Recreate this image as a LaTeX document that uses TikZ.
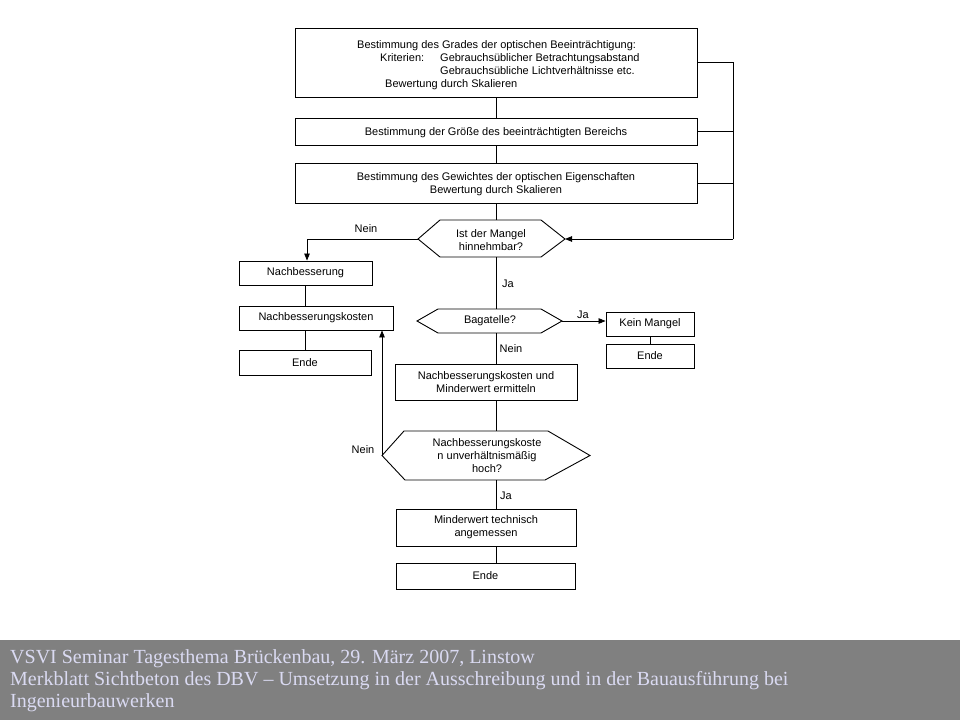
\documentclass[tikz,border=0pt]{standalone}
\usepackage{fontspec}
\setmainfont{Liberation Sans}
\newfontfamily\footfont{Liberation Serif}
\usetikzlibrary{arrows.meta}
\definecolor{footgray}{RGB}{128,128,128}
\definecolor{foottext}{RGB}{218,218,242}
\begin{document}
\begin{tikzpicture}[x=1pt,y=-1pt,
  box/.style={draw, line width=0.9pt, inner sep=0pt, align=center,
    font=\fontsize{11}{13}\selectfont},
  txt/.style={inner sep=0pt, align=center, font=\fontsize{11}{13}\selectfont},
  hexa/.style={draw, line width=0.9pt},
  conn/.style={line width=0.8pt},
  arr/.style={conn, -{Triangle[length=7pt,width=5.5pt]}},
  lbl/.style={inner sep=0pt, font=\fontsize{11}{12}\selectfont},
  foot/.style={inner sep=0pt, anchor=base west, text=foottext,
    font=\footfont\fontsize{20}{22}\selectfont}]
\useasboundingbox (0,0) rectangle (960,720);
\fill[white] (0,0) rectangle (960,720);

% top boxes
\node[box, minimum width=402pt, minimum height=69pt] (b1) at (496,62.5) {};
\node[txt, align=left, anchor=north west] (b1t) at (357,40.5) {%
Bestimmung des Grades der optischen Beeinträchtigung:\\
\hspace*{23pt}\makebox[60pt][l]{Kriterien:}Gebrauchsüblicher Betrachtungsabstand\\
\hspace*{83pt}Gebrauchsübliche Lichtverhältnisse etc.\\
\hspace*{28pt}Bewertung durch Skalieren};
\node[box, minimum width=402pt, minimum height=27pt] (b2) at (496,131.5) {};
\node[txt] (b2t) at (496,133) {Bestimmung der Größe des beeinträchtigten Bereichs};
\node[box, minimum width=402pt, minimum height=40pt] (b3) at (496,183) {};
\node[txt] (b3t) at (496,184.5) {Bestimmung des Gewichtes der optischen Eigenschaften\\Bewertung durch Skalieren};

% hexagon 1
\coordinate (d1n) at (496,220);
\coordinate (d1s) at (496,257);
\coordinate (d1w) at (418,239);
\coordinate (d1e) at (565,239);
\draw[hexa] (d1w) -- (440,220) -- (541,220) -- (d1e) -- (541,257) -- (440,257) -- cycle;
\node[txt] (d1) at (491,240) {Ist der Mangel\\hinnehmbar?};

% feedback on the right
\coordinate (rtop) at (733,62.5);
\coordinate (rbot) at (733,239);
\draw[conn] (b1.east) -- (rtop) -- (rbot);
\draw[conn] (b2.east) -- (b2.east -| rtop);
\draw[conn] (b3.east) -- (b3.east -| rtop);
\draw[arr] (rbot) -- (d1e);

\draw[conn] (b1.south) -- (b1.south |- b2.north);
\draw[conn] (b2.south) -- (b2.south |- b3.north);
\draw[conn] (b3.south) -- (d1n);

% left branch
\node[box, minimum width=133pt, minimum height=24pt] (nb) at (305.5,273) {Nachbesserung};
\node[box, minimum width=154pt, minimum height=24pt] (nk) at (316,318) {Nachbesserungskosten};
\node[box, minimum width=132pt, minimum height=25pt] (ne) at (305,362.5) {Ende};
\coordinate (nc) at (307,239);
\draw[arr] (d1w) -- (nc) -- (nc |- nb.north);
\node[lbl] (l1) at (366,229) {Nein};
\draw[conn] (nb.south) -- (nb.south |- nk.north);
\draw[conn] (nb.south |- nk.south) -- (nb.south |- ne.north);

% hexagon 2
\coordinate (d2n) at (496,309);
\coordinate (d2s) at (496,333);
\coordinate (d2w) at (417,321);
\coordinate (d2e) at (562,321);
\draw[hexa] (d2w) -- (438,309) -- (541,309) -- (d2e) -- (541,333) -- (438,333) -- cycle;
\node[txt] (d2) at (490,321) {Bagatelle?};
\draw[conn] (d1s) -- (d2n);
\node[lbl] (l2) at (508,284) {Ja};

% right branch
\node[box, minimum width=88pt, minimum height=24pt] (km) at (650,324) {Kein Mangel};
\node[box, minimum width=88pt, minimum height=24pt] (ke) at (650,356) {Ende};
\draw[arr] (d2e) -- (d2e -| km.west);
\node[lbl] (l3) at (583,315) {Ja};
\draw[conn] (km.south) -- (ke.north);

% middle chain
\node[box, minimum width=182pt, minimum height=36pt] (mw) at (486,382)
  {Nachbesserungskosten und\\Minderwert ermitteln};
\draw[conn] (d2s) -- (d2s |- mw.north);
\node[lbl] (l4) at (511,349) {Nein};

% hexagon 3
\coordinate (d3n) at (496,431);
\coordinate (d3s) at (496,480);
\coordinate (d3w) at (382,455.5);
\coordinate (d3e) at (590,455.5);
\draw[hexa] (d3w) -- (404,431) -- (548,431) -- (d3e) -- (545,480) -- (405,480) -- cycle;
\node[txt] (d3) at (487,455.5) {Nachbesserungskoste\\n unverhältnismäßig\\hoch?};
\draw[conn] (d3n |- mw.south) -- (d3n);
\draw[arr] (d3w) -- (d3w |- nk.south);
\node[lbl] (l5) at (363,450) {Nein};

\node[box, minimum width=180pt, minimum height=37pt] (mt) at (486,527.5)
  {Minderwert technisch\\angemessen};
\node[box, minimum width=179pt, minimum height=26pt] (fe) at (485.5,576) {Ende};
\draw[conn] (d3s) -- (d3s |- mt.north);
\node[lbl] (l6) at (506,496) {Ja};
\draw[conn] (d3s |- mt.south) -- (d3s |- fe.north);

% footer
\fill[footgray] (0,640) rectangle (960,720);
\node[foot] (f1) at (10,663) {VSVI Seminar Tagesthema Brückenbau, 29. März 2007, Linstow};
\node[foot] (f2) at (10,685) {Merkblatt Sichtbeton des DBV – Umsetzung in der Ausschreibung und in der Bauausführung bei};
\node[foot] (f3) at (10,707) {Ingenieurbauwerken};
\end{tikzpicture}
\end{document}
